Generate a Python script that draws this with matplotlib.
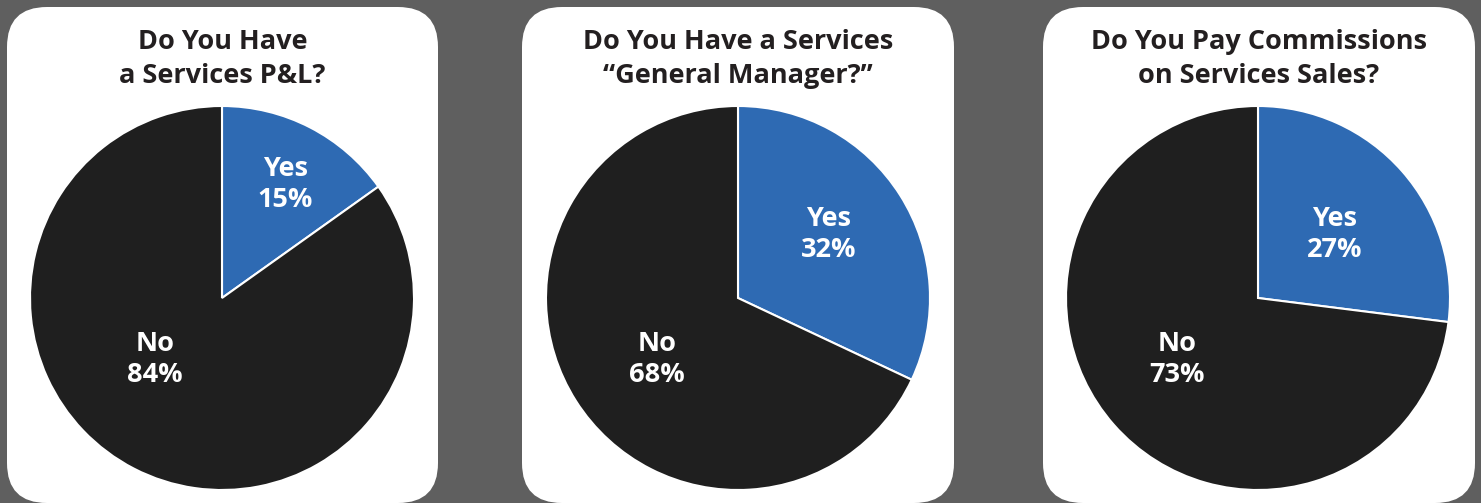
import matplotlib.pyplot as plt
from matplotlib.patches import FancyBboxPatch

# survey answers, yes / no share in percent
titles = ["Do You Have\na Services P&L?",
          "Do You Have a Services\n\u201cGeneral Manager?\u201d",
          "Do You Pay Commissions\non Services Sales?"]
yes_vals = [15, 32, 27]
no_vals = [84, 68, 73]

W, H = 1481, 503
blue = "#2e6ab3"
dark = "#1f1f1f"
bg = "#5f5f5f"

# layout in pixels (styling only)
panels = [(7, 438), (522, 954), (1043, 1475)]
centers = [222, 738, 1258]
pie_cy = 298
radius = 192
yes_pos = [(0.33, 0.59), (0.47, 0.33), (0.40, 0.33)]
no_pos = [(-0.35, -0.32), (-0.42, -0.32), (-0.42, -0.32)]

plt.rcParams['font.family'] = ['Open Sans', 'DejaVu Sans']

fig = plt.figure(figsize=(W / 100, H / 100), dpi=100, facecolor=bg)

back = fig.add_axes([0, 0, 1, 1])
back.set_xlim(0, W)
back.set_ylim(H, 0)
back.axis('off')
for x0, x1 in panels:
    back.add_patch(FancyBboxPatch((x0, 7), x1 - x0, 496,
                                  boxstyle="round,pad=0,rounding_size=40",
                                  facecolor="white", edgecolor="none"))

for i in range(3):
    cx = centers[i]
    px0, px1 = panels[i]
    back.text((px0 + px1) / 2, 59, titles[i], ha='center', va='center',
              fontsize=19.5, fontweight='bold', color="#231f20", linespacing=1.38)

    ax = fig.add_axes([(cx - radius) / W, (H - pie_cy - radius) / H,
                       2 * radius / W, 2 * radius / H])
    ax.pie([yes_vals[i], no_vals[i]], colors=[blue, dark], startangle=90,
           counterclock=False, radius=1,
           wedgeprops=dict(edgecolor="white", linewidth=1.5))
    ax.set_xlim(-1, 1)
    ax.set_ylim(-1, 1)
    ax.set_aspect('auto')
    ax.axis('off')
    ax.text(yes_pos[i][0], yes_pos[i][1], "Yes\n%d%%" % yes_vals[i],
            ha='center', va='center', color='white', fontsize=19.5,
            fontweight='bold', linespacing=1.25)
    ax.text(no_pos[i][0], no_pos[i][1], "No\n%d%%" % no_vals[i],
            ha='center', va='center', color='white', fontsize=19.5,
            fontweight='bold', linespacing=1.25)

fig.savefig("out.png", dpi=100, facecolor=bg)
